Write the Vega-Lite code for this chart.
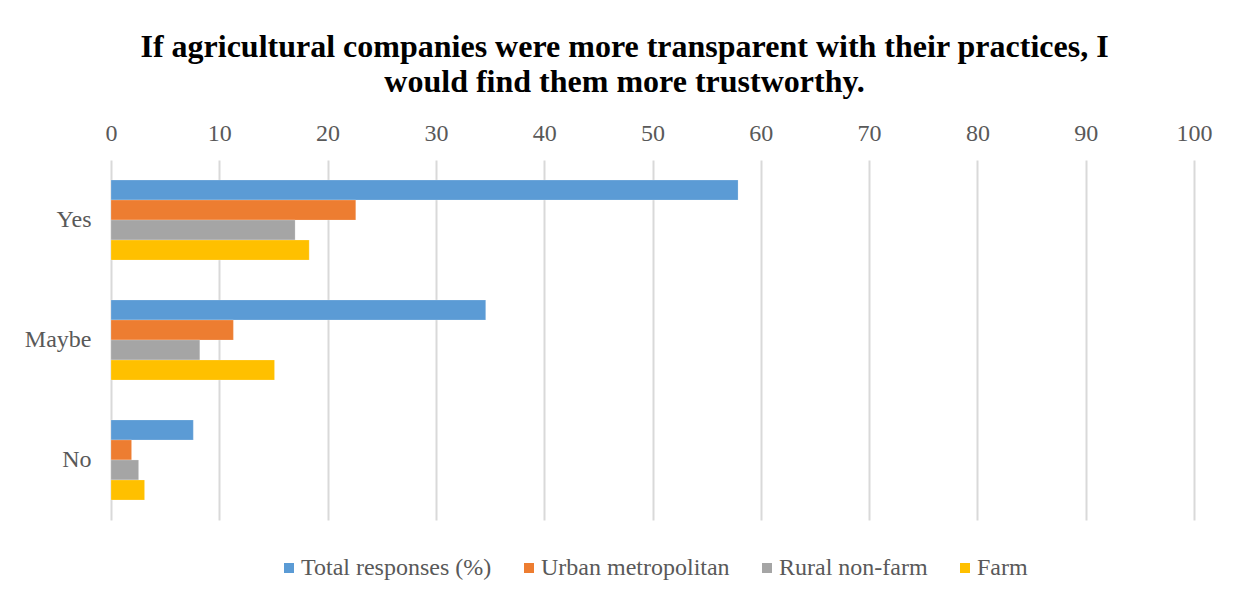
{
  "$schema": "https://vega.github.io/schema/vega-lite/v6.json",
  "width": 1083,
  "height": 360,
  "autosize": {"type": "none"},
  "padding": {"left": 111, "top": 160, "right": 42, "bottom": 83},
  "background": "white",
  "title": {
    "text": ["If agricultural companies were more transparent with their practices, I", "would find them more trustworthy."],
    "font": "Liberation Serif",
    "fontSize": 32,
    "fontWeight": "bold",
    "color": "#000000",
    "lineHeight": 35,
    "anchor": "middle",
    "dx": -28,
    "offset": 22
  },
  "data": {
    "values": [
      {"answer": "Yes", "group": "Total responses (%)", "value": 57.9},
      {"answer": "Yes", "group": "Urban metropolitan", "value": 22.6},
      {"answer": "Yes", "group": "Rural non-farm", "value": 17.0},
      {"answer": "Yes", "group": "Farm", "value": 18.3},
      {"answer": "Maybe", "group": "Total responses (%)", "value": 34.6},
      {"answer": "Maybe", "group": "Urban metropolitan", "value": 11.3},
      {"answer": "Maybe", "group": "Rural non-farm", "value": 8.2},
      {"answer": "Maybe", "group": "Farm", "value": 15.1},
      {"answer": "No", "group": "Total responses (%)", "value": 7.6},
      {"answer": "No", "group": "Urban metropolitan", "value": 1.9},
      {"answer": "No", "group": "Rural non-farm", "value": 2.55},
      {"answer": "No", "group": "Farm", "value": 3.1}
    ]
  },
  "mark": {"type": "bar", "stroke": "white", "strokeWidth": 0.5, "strokeOpacity": 0.4},
  "encoding": {
    "y": {
      "field": "answer",
      "type": "nominal",
      "sort": ["Yes", "Maybe", "No"],
      "scale": {"paddingInner": 0.333, "paddingOuter": 0.167},
      "axis": {
        "title": null,
        "ticks": false,
        "domain": false,
        "labelFont": "Liberation Serif",
        "labelFontSize": 24,
        "labelColor": "#595959",
        "labelPadding": 20
      }
    },
    "yOffset": {
      "field": "group",
      "type": "nominal",
      "sort": ["Total responses (%)", "Urban metropolitan", "Rural non-farm", "Farm"]
    },
    "x": {
      "field": "value",
      "type": "quantitative",
      "scale": {"domain": [0, 100], "nice": false},
      "axis": {
        "orient": "top",
        "title": null,
        "values": [0, 10, 20, 30, 40, 50, 60, 70, 80, 90, 100],
        "ticks": false,
        "domain": false,
        "grid": true,
        "gridColor": "#d9d9d9",
        "gridWidth": 2,
        "labelFlush": false,
        "labelFont": "Liberation Serif",
        "labelFontSize": 24,
        "labelColor": "#595959",
        "labelPadding": 15
      }
    },
    "color": {
      "field": "group",
      "type": "nominal",
      "sort": ["Total responses (%)", "Urban metropolitan", "Rural non-farm", "Farm"],
      "scale": {
        "domain": ["Total responses (%)", "Urban metropolitan", "Rural non-farm", "Farm"],
        "range": ["#5B9BD5", "#ED7D31", "#A5A5A5", "#FFC000"]
      },
      "legend": {
        "title": null,
        "orient": "bottom",
        "direction": "horizontal",
        "symbolType": "square",
        "symbolSize": 100,
        "symbolStrokeWidth": 0,
        "labelFont": "Liberation Serif",
        "labelFontSize": 24,
        "labelColor": "#595959",
        "labelLimit": 400,
        "columnPadding": 25,
        "labelOffset": 0,
        "offset": 36
      }
    }
  },
  "config": {
    "view": {"stroke": null},
    "legend": {"layout": {"bottom": {"anchor": "middle"}}}
  }
}
